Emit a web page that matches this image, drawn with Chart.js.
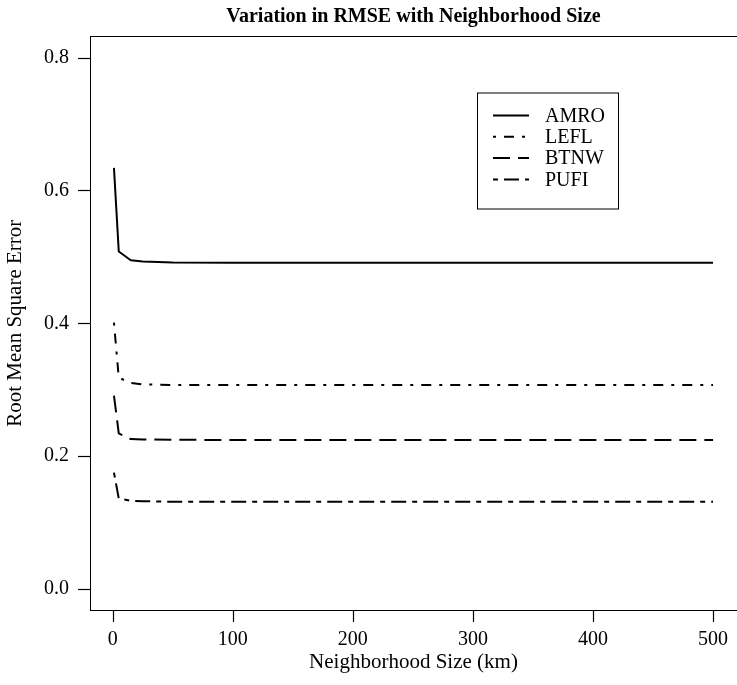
<!DOCTYPE html>
<html>
<head>
<meta charset="utf-8">
<script src="https://cdn.jsdelivr.net/npm/chart.js@4"></script>
<style>
  html, body { margin: 0; padding: 0; background: #fff; }
  canvas { display: block; }
</style>
</head>
<body>
<canvas id="rmse" width="737" height="685"></canvas>
<script>
// Neighborhood sizes (km) at which RMSE was evaluated
const neighborhoodKm = [1, 5, 15, 25, 50, 100, 200, 300, 400, 500];

// RMSE per species
const amro = [0.634, 0.508, 0.495, 0.493, 0.4915, 0.491, 0.491, 0.491, 0.491, 0.491];
const lefl = [0.401, 0.318, 0.310, 0.308, 0.307, 0.307, 0.307, 0.307, 0.307, 0.307];
const btnw = [0.291, 0.234, 0.2255, 0.225, 0.2245, 0.224, 0.224, 0.224, 0.224, 0.224];
const pufi = [0.175, 0.136, 0.1325, 0.132, 0.131, 0.131, 0.131, 0.131, 0.131, 0.131];

const speciesNames = ['AMRO', 'LEFL', 'BTNW', 'PUFI'];

// Axis tick positions
const xTicks = [0, 100, 200, 300, 400, 500];
const yTicks = [0.0, 0.2, 0.4, 0.6, 0.8];

const SERIF = "'Liberation Serif', 'DejaVu Serif', serif";
const FONT_SIZE = 20;
const TITLE_SIZE = 21;
const TICK_LEN = 12;

// Axis ranges padded 4% beyond the data, as in a classic base plot
const X_MIN = -18.96, X_MAX = 519.96;
const Y_MIN = -0.032, Y_MAX = 0.832;

// Line styles: solid, dot-dash, long dash, two-dash
const dashes = [[], [3, 8, 10, 8], [17, 8], [5, 6, 15, 6]];

const seriesValues = [amro, lefl, btnw, pufi];
const datasets = seriesValues.map((vals, i) => ({
  label: speciesNames[i],
  data: neighborhoodKm.map((x, j) => ({ x: x, y: vals[j] })),
  xAxisID: 'x',
  yAxisID: 'y',
  borderColor: '#000',
  borderWidth: 2,
  borderDash: dashes[i],
  borderCapStyle: 'butt',
  borderJoinStyle: 'round',
  pointRadius: 0,
  fill: false,
  tension: 0
}));

// Outward tick marks on the bottom and left axes
const outwardTicks = {
  id: 'outwardTicks',
  afterDraw(chart) {
    const { ctx, scales } = chart;
    const xs = scales.x, ys = scales.y;
    const base = Math.round(xs.top);
    const edge = Math.round(ys.right);
    ctx.save();
    ctx.strokeStyle = '#000';
    ctx.lineWidth = 1.2;
    ctx.setLineDash([]);
    xTicks.forEach(v => {
      const px = Math.round(xs.getPixelForValue(v)) + 0.5;
      ctx.beginPath();
      ctx.moveTo(px, base);
      ctx.lineTo(px, base + TICK_LEN);
      ctx.stroke();
    });
    yTicks.forEach(v => {
      const py = Math.round(ys.getPixelForValue(v)) + 0.5;
      ctx.beginPath();
      ctx.moveTo(edge, py);
      ctx.lineTo(edge - TICK_LEN, py);
      ctx.stroke();
    });
    ctx.restore();
  }
};

// Boxed legend inside the plot area
const boxedLegend = {
  id: 'boxedLegend',
  afterDraw(chart, args, opts) {
    const { ctx, chartArea: a } = chart;
    const left = a.left + opts.dx, top = a.top + opts.dy;
    ctx.save();
    ctx.fillStyle = '#fff';
    ctx.fillRect(left, top, opts.width, opts.height);
    ctx.strokeStyle = '#000';
    ctx.lineWidth = 1;
    ctx.setLineDash([]);
    ctx.strokeRect(left + 0.5, top + 0.5, opts.width, opts.height);
    ctx.font = FONT_SIZE + 'px ' + SERIF;
    ctx.textBaseline = 'middle';
    ctx.textAlign = 'left';
    chart.data.datasets.forEach((ds, i) => {
      const y = top + opts.firstRow + i * opts.rowStep;
      ctx.strokeStyle = ds.borderColor;
      ctx.lineWidth = ds.borderWidth;
      ctx.lineCap = 'butt';
      ctx.setLineDash(ds.borderDash);
      ctx.beginPath();
      ctx.moveTo(left + opts.lineStart, y);
      ctx.lineTo(left + opts.lineStart + opts.lineLen, y);
      ctx.stroke();
      ctx.setLineDash([]);
      ctx.fillStyle = '#000';
      ctx.fillText(ds.label, left + opts.textStart, y + 1);
    });
    ctx.restore();
  }
};

new Chart(document.getElementById('rmse'), {
  type: 'line',
  data: { datasets: datasets },
  plugins: [outwardTicks, boxedLegend],
  options: {
    responsive: false,
    animation: false,
    devicePixelRatio: 1,
    layout: { padding: { left: 0, right: -5, top: 0, bottom: 0 } },
    plugins: {
      legend: { display: false },
      tooltip: { enabled: false },
      title: { display: false },
      boxedLegend: {
        dx: 387, dy: 56, width: 141, height: 116,
        firstRow: 23, rowStep: 21.3,
        lineStart: 16, lineLen: 36, textStart: 68
      }
    },
    scales: {
      // Top scale carries the plot title (centred over the plot) and the top edge of the box
      top: {
        type: 'linear',
        position: 'top',
        min: X_MIN,
        max: X_MAX,
        afterFit(scale) { scale.height = 36.5; },
        grid: { display: false, drawTicks: false },
        border: { display: true, color: '#000', width: 1 },
        ticks: { display: false },
        title: {
          display: true,
          text: 'Variation in RMSE with Neighborhood Size',
          color: '#000',
          font: { family: SERIF, size: 20, weight: 'bold' },
          padding: { top: 5, bottom: 0 }
        }
      },
      x: {
        type: 'linear',
        position: 'bottom',
        min: X_MIN,
        max: X_MAX,
        afterFit(scale) { scale.height = 75; },
        afterBuildTicks(scale) { scale.ticks = xTicks.map(v => ({ value: v })); },
        grid: {
          display: false,
          drawOnChartArea: false,
          drawTicks: true,
          tickLength: TICK_LEN
        },
        border: { display: true, color: '#000', width: 1 },
        ticks: {
          color: '#000',
          padding: 6,
          maxRotation: 0,
          autoSkip: false,
          font: { family: SERIF, size: FONT_SIZE },
          callback: v => String(v)
        },
        title: {
          display: true,
          text: 'Neighborhood Size (km)',
          color: '#000',
          font: { family: SERIF, size: TITLE_SIZE },
          padding: { top: 0, bottom: 10 }
        }
      },
      y: {
        type: 'linear',
        position: 'left',
        min: Y_MIN,
        max: Y_MAX,
        afterFit(scale) { scale.width = 90; },
        afterBuildTicks(scale) { scale.ticks = yTicks.map(v => ({ value: v })); },
        grid: {
          display: false,
          drawOnChartArea: false,
          drawTicks: true,
          tickLength: TICK_LEN
        },
        border: { display: true, color: '#000', width: 1 },
        ticks: {
          color: '#000',
          padding: 9,
          autoSkip: false,
          font: { family: SERIF, size: FONT_SIZE },
          callback: v => Number(v).toFixed(1)
        },
        title: {
          display: true,
          text: 'Root Mean Square Error',
          color: '#000',
          font: { family: SERIF, size: TITLE_SIZE },
          padding: { top: 3, bottom: 0 }
        }
      }
    }
  }
});
</script>
</body>
</html>
